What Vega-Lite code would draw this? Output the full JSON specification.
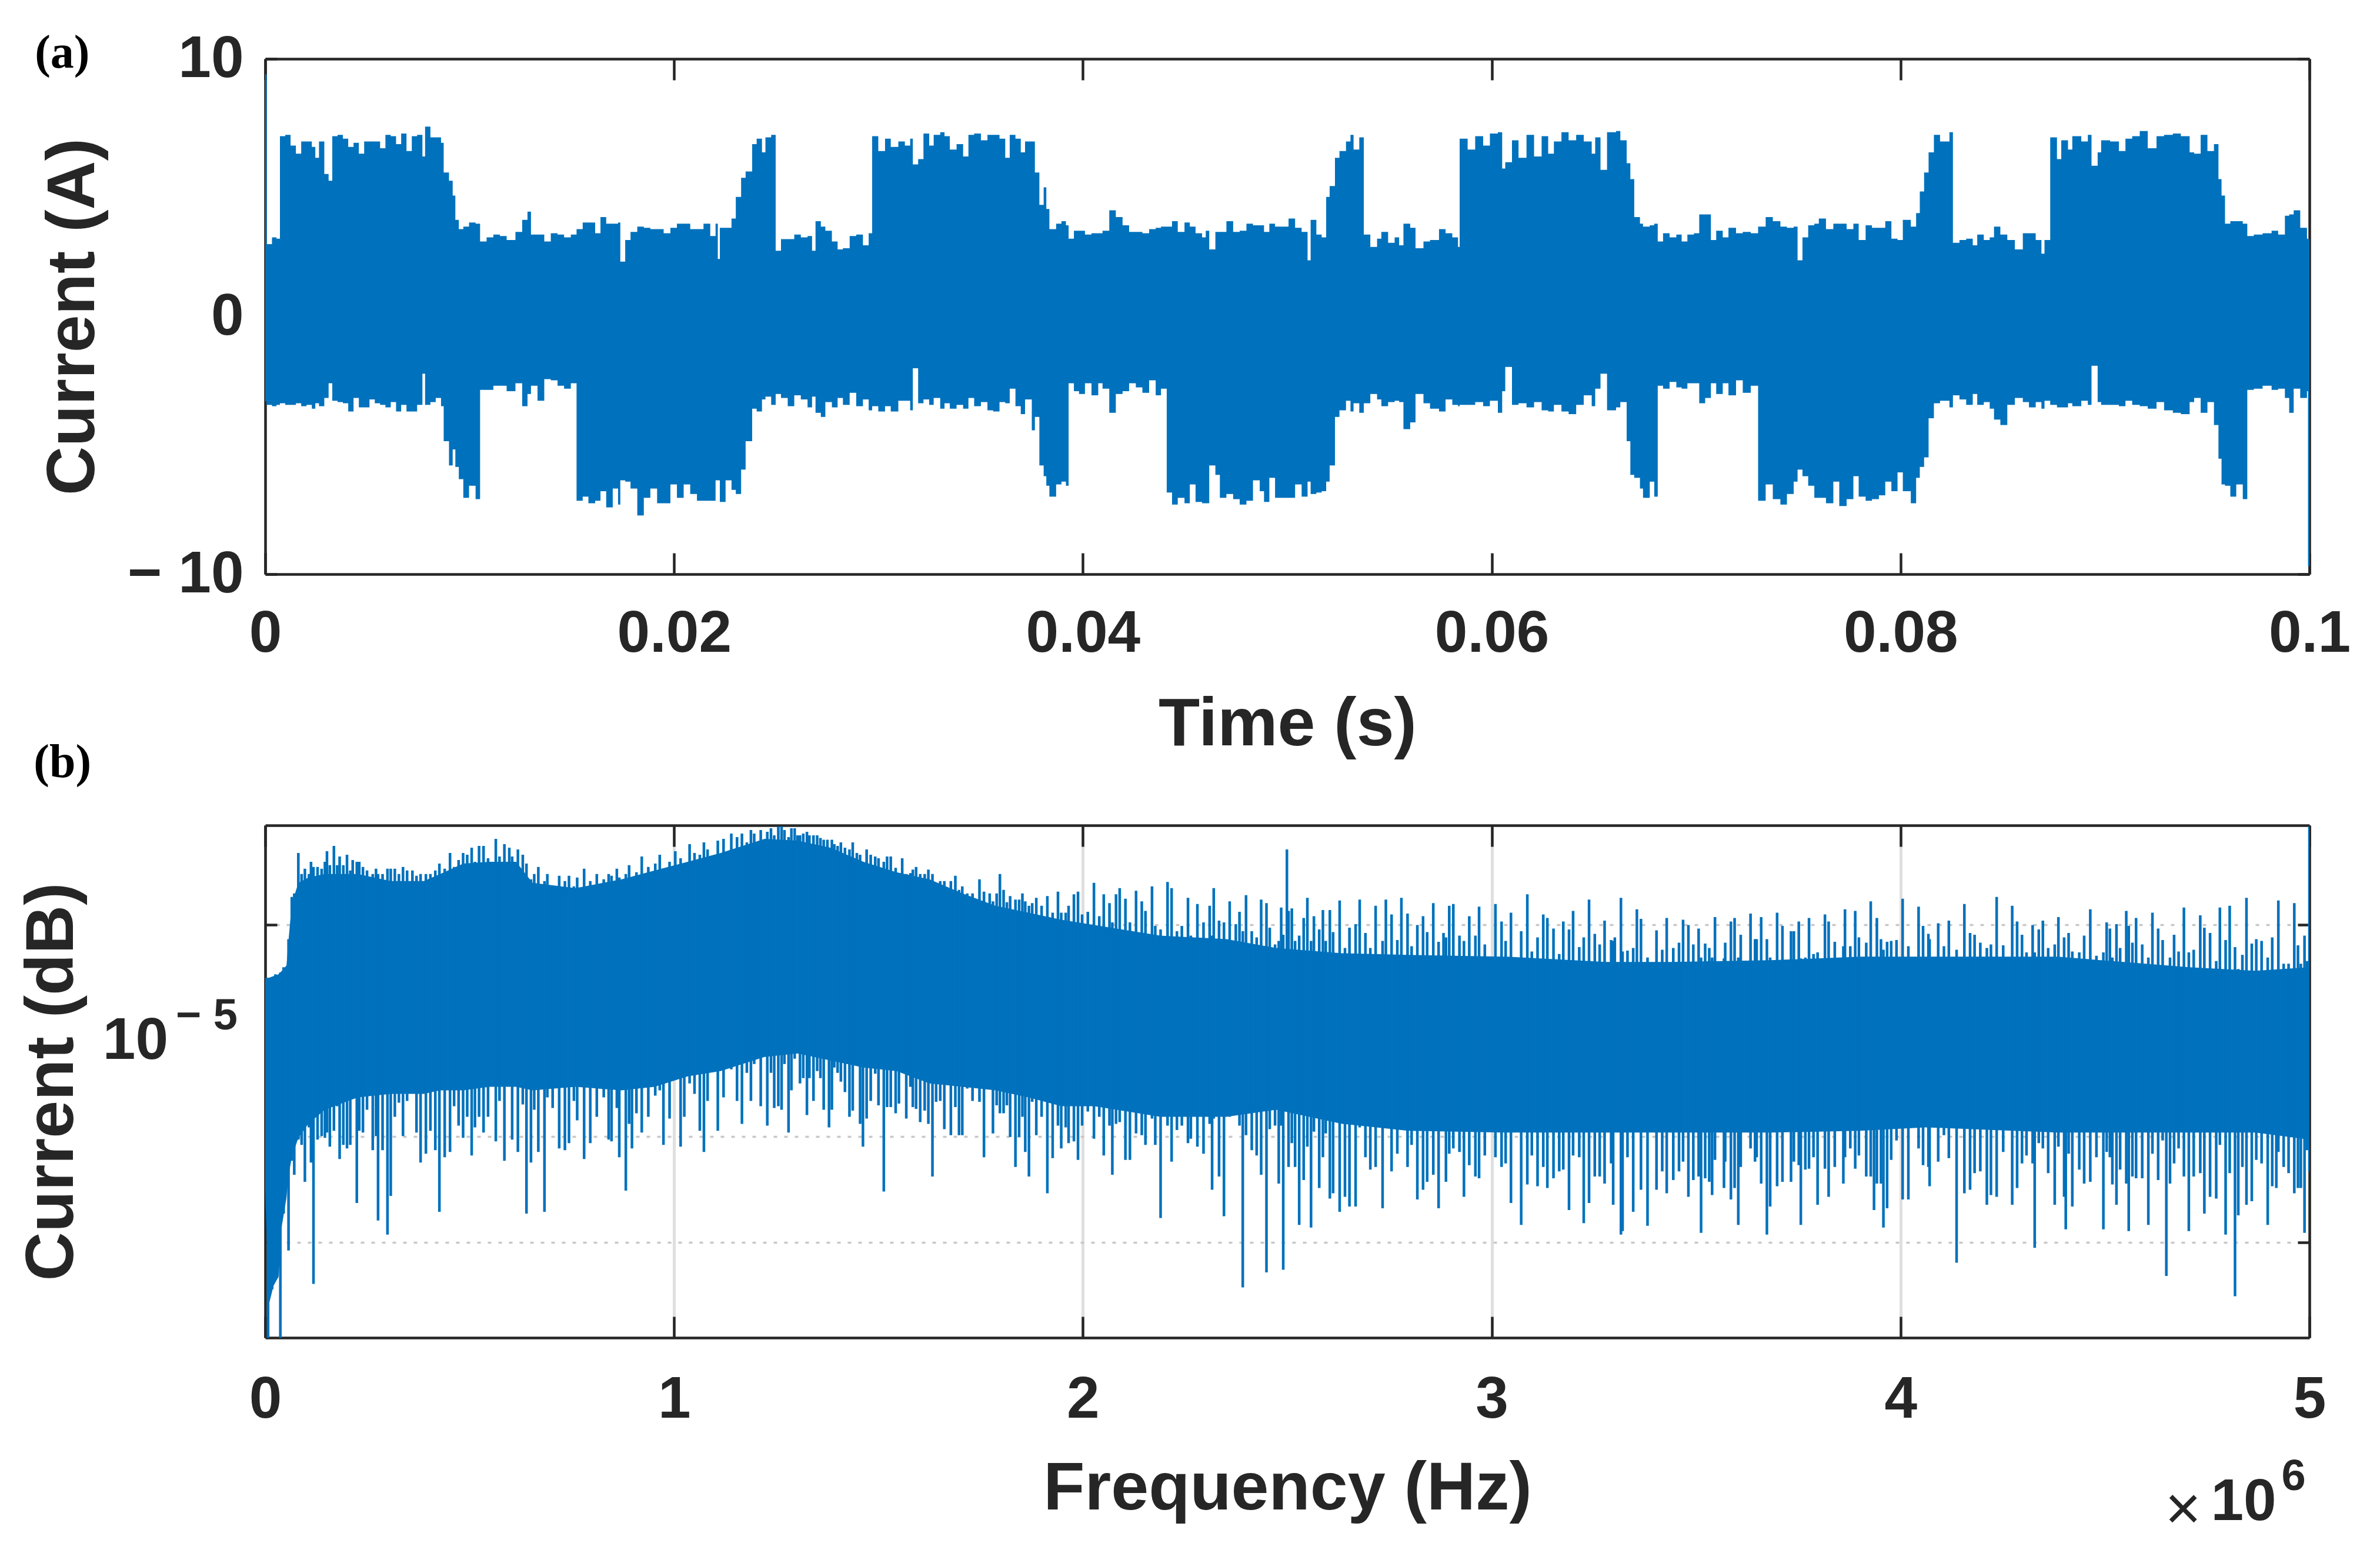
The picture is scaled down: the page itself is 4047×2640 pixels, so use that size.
{"$schema":"https://vega.github.io/schema/vega-lite/v6.json","padding":{"left":31,"top":50,"right":60,"bottom":30},"background":"white","bounds":"flush","spacing":427,
"config":{"view":{"stroke":null},"font":"Liberation Sans","axis":{"domainColor":"#262626","domainWidth":4.5,"tickColor":"#262626","tickWidth":4.5,"labelColor":"#262626","labelFont":"Liberation Sans","labelFontWeight":"bold","labelFontSize":100,"labelLimit":2000,"titleLimit":3000,"titleColor":"#262626","titleFont":"Liberation Sans","titleFontWeight":"bold","titleFontSize":115,"grid":false,"labelOverlap":false,"labelBound":false,"labelFlush":false}},
"datasets":{
"a":[{"t":0,"hi":9.4,"lo":-3.3},{"t":0.00007,"hi":2.81,"lo":-3.43},{"t":0.00033,"hi":3.07,"lo":-3.48},{"t":0.00055,"hi":3.02,"lo":-3.43},{"t":0.00072,"hi":7.0,"lo":-3.37},{"t":0.00098,"hi":7.05,"lo":-3.43},{"t":0.00124,"hi":6.63,"lo":-3.43},{"t":0.0015,"hi":6.32,"lo":-3.37},{"t":0.00176,"hi":6.79,"lo":-3.48},{"t":0.00202,"hi":6.79,"lo":-3.43},{"t":0.00228,"hi":6.58,"lo":-3.58},{"t":0.00245,"hi":6.16,"lo":-3.37},{"t":0.00263,"hi":6.79,"lo":-3.48},{"t":0.00289,"hi":5.53,"lo":-3.16},{"t":0.0031,"hi":5.27,"lo":-2.59},{"t":0.00328,"hi":7.0,"lo":-3.27},{"t":0.00354,"hi":7.05,"lo":-3.32},{"t":0.0038,"hi":6.9,"lo":-3.37},{"t":0.00406,"hi":6.58,"lo":-3.69},{"t":0.00432,"hi":6.74,"lo":-3.16},{"t":0.00458,"hi":6.32,"lo":-3.53},{"t":0.00484,"hi":6.79,"lo":-3.53},{"t":0.0051,"hi":6.79,"lo":-3.22},{"t":0.00536,"hi":6.79,"lo":-3.37},{"t":0.00562,"hi":6.53,"lo":-3.43},{"t":0.00588,"hi":7.05,"lo":-3.53},{"t":0.00614,"hi":7.0,"lo":-3.32},{"t":0.0064,"hi":6.69,"lo":-3.69},{"t":0.00665,"hi":7.1,"lo":-3.43},{"t":0.00691,"hi":6.42,"lo":-3.69},{"t":0.00717,"hi":7.0,"lo":-3.69},{"t":0.00743,"hi":7.05,"lo":-3.43},{"t":0.00769,"hi":6.21,"lo":-2.22},{"t":0.00782,"hi":7.37,"lo":-3.43},{"t":0.00808,"hi":6.95,"lo":-3.32},{"t":0.00834,"hi":6.95,"lo":-3.16},{"t":0.0086,"hi":6.74,"lo":-3.48},{"t":0.00873,"hi":5.59,"lo":-4.84},{"t":0.00899,"hi":5.27,"lo":-5.78},{"t":0.00917,"hi":4.69,"lo":-5.16},{"t":0.0093,"hi":3.75,"lo":-5.84},{"t":0.00947,"hi":3.39,"lo":-6.31},{"t":0.00969,"hi":3.49,"lo":-7.04},{"t":0.00997,"hi":3.65,"lo":-6.57},{"t":0.01029,"hi":3.6,"lo":-7.09},{"t":0.01051,"hi":2.91,"lo":-2.85},{"t":0.01083,"hi":3.07,"lo":-2.85},{"t":0.01116,"hi":3.18,"lo":-2.69},{"t":0.01148,"hi":3.12,"lo":-2.69},{"t":0.01181,"hi":2.97,"lo":-2.9},{"t":0.01224,"hi":3.28,"lo":-2.59},{"t":0.01257,"hi":3.75,"lo":-3.48},{"t":0.01283,"hi":4.07,"lo":-3.01},{"t":0.013,"hi":3.18,"lo":-2.69},{"t":0.01332,"hi":3.18,"lo":-3.27},{"t":0.01365,"hi":2.91,"lo":-2.43},{"t":0.01397,"hi":3.23,"lo":-2.48},{"t":0.0143,"hi":3.18,"lo":-2.69},{"t":0.01462,"hi":3.07,"lo":-2.8},{"t":0.01495,"hi":3.18,"lo":-2.59},{"t":0.01523,"hi":3.39,"lo":-7.15},{"t":0.01553,"hi":3.65,"lo":-6.99},{"t":0.01581,"hi":3.65,"lo":-7.25},{"t":0.01614,"hi":3.23,"lo":-7.15},{"t":0.0164,"hi":3.86,"lo":-6.78},{"t":0.01668,"hi":3.6,"lo":-7.41},{"t":0.017,"hi":3.6,"lo":-6.68},{"t":0.01726,"hi":3.65,"lo":-7.3},{"t":0.01737,"hi":2.13,"lo":-6.36},{"t":0.01761,"hi":2.97,"lo":-6.41},{"t":0.01787,"hi":3.28,"lo":-6.68},{"t":0.0182,"hi":3.49,"lo":-7.72},{"t":0.01852,"hi":3.44,"lo":-7.04},{"t":0.01884,"hi":3.39,"lo":-6.68},{"t":0.01917,"hi":3.39,"lo":-7.25},{"t":0.01949,"hi":3.23,"lo":-7.25},{"t":0.01982,"hi":3.44,"lo":-6.52},{"t":0.02014,"hi":3.6,"lo":-7.04},{"t":0.02047,"hi":3.6,"lo":-6.52},{"t":0.02079,"hi":3.39,"lo":-6.89},{"t":0.02112,"hi":3.39,"lo":-7.15},{"t":0.02144,"hi":3.6,"lo":-7.15},{"t":0.02177,"hi":3.12,"lo":-7.15},{"t":0.02203,"hi":3.6,"lo":-6.36},{"t":0.02214,"hi":2.23,"lo":-6.36},{"t":0.02224,"hi":3.44,"lo":-7.2},{"t":0.02252,"hi":3.44,"lo":-6.36},{"t":0.02281,"hi":3.8,"lo":-6.73},{"t":0.02302,"hi":4.64,"lo":-6.89},{"t":0.02328,"hi":5.38,"lo":-5.94},{"t":0.0235,"hi":5.63,"lo":-4.84},{"t":0.02382,"hi":6.69,"lo":-3.58},{"t":0.02404,"hi":6.9,"lo":-3.69},{"t":0.0243,"hi":6.37,"lo":-3.22},{"t":0.02447,"hi":6.95,"lo":-3.11},{"t":0.02475,"hi":7.05,"lo":-3.43},{"t":0.02497,"hi":2.55,"lo":-3.01},{"t":0.02523,"hi":3.0,"lo":-3.16},{"t":0.02556,"hi":3.0,"lo":-3.48},{"t":0.02588,"hi":3.18,"lo":-3.06},{"t":0.0262,"hi":3.07,"lo":-3.22},{"t":0.02653,"hi":3.12,"lo":-3.53},{"t":0.02675,"hi":2.55,"lo":-3.11},{"t":0.02692,"hi":3.7,"lo":-3.74},{"t":0.02718,"hi":3.49,"lo":-3.9},{"t":0.0274,"hi":3.33,"lo":-3.32},{"t":0.02772,"hi":2.91,"lo":-3.53},{"t":0.028,"hi":2.6,"lo":-3.16},{"t":0.02826,"hi":2.65,"lo":-3.43},{"t":0.02859,"hi":3.12,"lo":-2.96},{"t":0.02891,"hi":3.18,"lo":-3.48},{"t":0.02924,"hi":2.76,"lo":-3.22},{"t":0.02952,"hi":3.23,"lo":-3.64},{"t":0.02969,"hi":7.0,"lo":-3.48},{"t":0.02999,"hi":6.42,"lo":-3.69},{"t":0.03032,"hi":6.9,"lo":-3.48},{"t":0.0306,"hi":6.58,"lo":-3.69},{"t":0.03097,"hi":6.79,"lo":-3.27},{"t":0.03129,"hi":6.63,"lo":-3.27},{"t":0.03155,"hi":6.9,"lo":-3.64},{"t":0.03168,"hi":5.9,"lo":-2.01},{"t":0.03194,"hi":6.11,"lo":-3.37},{"t":0.0322,"hi":7.1,"lo":-3.22},{"t":0.03248,"hi":6.63,"lo":-3.43},{"t":0.0327,"hi":7.05,"lo":-3.16},{"t":0.03302,"hi":7.15,"lo":-3.58},{"t":0.03323,"hi":7.0,"lo":-3.37},{"t":0.03349,"hi":6.48,"lo":-3.58},{"t":0.03382,"hi":6.69,"lo":-3.43},{"t":0.03414,"hi":6.21,"lo":-3.58},{"t":0.0344,"hi":7.05,"lo":-3.16},{"t":0.03468,"hi":7.1,"lo":-3.48},{"t":0.03501,"hi":6.84,"lo":-3.32},{"t":0.03533,"hi":7.05,"lo":-3.64},{"t":0.03561,"hi":7.05,"lo":-3.69},{"t":0.03592,"hi":6.9,"lo":-3.32},{"t":0.0362,"hi":6.16,"lo":-3.37},{"t":0.03642,"hi":7.05,"lo":-2.8},{"t":0.0367,"hi":6.9,"lo":-3.48},{"t":0.03696,"hi":6.37,"lo":-3.79},{"t":0.03717,"hi":6.79,"lo":-3.22},{"t":0.0375,"hi":6.79,"lo":-4.42},{"t":0.03765,"hi":5.59,"lo":-3.9},{"t":0.03787,"hi":4.33,"lo":-5.78},{"t":0.03808,"hi":5.01,"lo":-6.2},{"t":0.03821,"hi":4.17,"lo":-6.57},{"t":0.03836,"hi":3.39,"lo":-6.99},{"t":0.03869,"hi":3.6,"lo":-6.52},{"t":0.03895,"hi":3.7,"lo":-6.41},{"t":0.03917,"hi":3.54,"lo":-6.57},{"t":0.0393,"hi":3.02,"lo":-2.59},{"t":0.03956,"hi":3.33,"lo":-2.9},{"t":0.03981,"hi":3.33,"lo":-3.01},{"t":0.0401,"hi":3.18,"lo":-2.59},{"t":0.04042,"hi":3.23,"lo":-3.06},{"t":0.04075,"hi":3.23,"lo":-2.59},{"t":0.04096,"hi":3.33,"lo":-2.8},{"t":0.04129,"hi":4.12,"lo":-3.74},{"t":0.04161,"hi":3.86,"lo":-3.01},{"t":0.04194,"hi":3.54,"lo":-2.9},{"t":0.04226,"hi":3.28,"lo":-2.59},{"t":0.04259,"hi":3.28,"lo":-2.75},{"t":0.04291,"hi":3.23,"lo":-2.96},{"t":0.04324,"hi":3.39,"lo":-2.48},{"t":0.04356,"hi":3.44,"lo":-3.06},{"t":0.04382,"hi":3.49,"lo":-2.8},{"t":0.0441,"hi":3.49,"lo":-6.83},{"t":0.04436,"hi":3.7,"lo":-7.3},{"t":0.04464,"hi":3.28,"lo":-7.04},{"t":0.04497,"hi":3.65,"lo":-7.25},{"t":0.04523,"hi":3.49,"lo":-6.52},{"t":0.04551,"hi":3.23,"lo":-7.2},{"t":0.04583,"hi":3.07,"lo":-7.25},{"t":0.04601,"hi":3.33,"lo":-7.25},{"t":0.04618,"hi":2.6,"lo":-5.78},{"t":0.04648,"hi":3.28,"lo":-6.15},{"t":0.0467,"hi":3.28,"lo":-7.04},{"t":0.04702,"hi":3.7,"lo":-6.89},{"t":0.04735,"hi":3.28,"lo":-7.09},{"t":0.04767,"hi":3.33,"lo":-7.3},{"t":0.048,"hi":3.6,"lo":-7.15},{"t":0.04832,"hi":3.54,"lo":-6.36},{"t":0.04865,"hi":3.54,"lo":-6.78},{"t":0.04886,"hi":3.28,"lo":-7.2},{"t":0.04912,"hi":3.6,"lo":-6.26},{"t":0.0494,"hi":3.49,"lo":-7.04},{"t":0.04973,"hi":3.49,"lo":-7.04},{"t":0.05006,"hi":3.8,"lo":-7.04},{"t":0.05038,"hi":3.44,"lo":-6.52},{"t":0.0507,"hi":3.28,"lo":-6.99},{"t":0.05099,"hi":2.18,"lo":-6.41},{"t":0.05114,"hi":3.75,"lo":-6.89},{"t":0.05142,"hi":3.18,"lo":-6.83},{"t":0.05168,"hi":3.07,"lo":-6.78},{"t":0.0519,"hi":4.64,"lo":-6.41},{"t":0.05207,"hi":5.06,"lo":-5.78},{"t":0.05233,"hi":6.16,"lo":-3.9},{"t":0.05255,"hi":6.42,"lo":-3.64},{"t":0.05287,"hi":6.79,"lo":-3.27},{"t":0.05309,"hi":7.05,"lo":-3.69},{"t":0.05324,"hi":6.48,"lo":-3.37},{"t":0.05352,"hi":6.95,"lo":-3.74},{"t":0.05374,"hi":3.18,"lo":-3.37},{"t":0.05406,"hi":2.7,"lo":-3.01},{"t":0.05439,"hi":3.02,"lo":-3.22},{"t":0.0546,"hi":3.28,"lo":-3.48},{"t":0.05493,"hi":2.86,"lo":-3.32},{"t":0.05525,"hi":3.07,"lo":-3.27},{"t":0.05547,"hi":2.76,"lo":-3.32},{"t":0.05568,"hi":3.6,"lo":-4.37},{"t":0.05601,"hi":3.44,"lo":-4.11},{"t":0.05627,"hi":2.65,"lo":-3.01},{"t":0.05666,"hi":2.91,"lo":-3.37},{"t":0.05698,"hi":2.97,"lo":-3.58},{"t":0.05742,"hi":3.39,"lo":-3.69},{"t":0.05774,"hi":3.23,"lo":-3.22},{"t":0.05807,"hi":3.07,"lo":-3.43},{"t":0.05835,"hi":2.7,"lo":-3.48},{"t":0.05843,"hi":6.9,"lo":-3.43},{"t":0.05882,"hi":6.48,"lo":-3.43},{"t":0.05919,"hi":7.0,"lo":-3.32},{"t":0.05958,"hi":6.63,"lo":-3.48},{"t":0.05991,"hi":7.1,"lo":-3.27},{"t":0.0603,"hi":7.15,"lo":-3.74},{"t":0.06051,"hi":5.74,"lo":-2.9},{"t":0.06066,"hi":5.99,"lo":-1.96},{"t":0.06099,"hi":6.84,"lo":-3.43},{"t":0.06131,"hi":6.16,"lo":-3.37},{"t":0.0617,"hi":7.05,"lo":-3.53},{"t":0.06207,"hi":6.21,"lo":-3.32},{"t":0.06244,"hi":7.0,"lo":-3.64},{"t":0.06276,"hi":6.32,"lo":-3.69},{"t":0.06304,"hi":6.79,"lo":-3.43},{"t":0.06341,"hi":7.15,"lo":-3.69},{"t":0.06376,"hi":6.84,"lo":-3.79},{"t":0.06413,"hi":7.05,"lo":-3.43},{"t":0.0645,"hi":6.79,"lo":-3.06},{"t":0.06489,"hi":6.32,"lo":-3.48},{"t":0.06506,"hi":6.95,"lo":-2.8},{"t":0.06532,"hi":5.69,"lo":-2.22},{"t":0.06564,"hi":7.15,"lo":-3.64},{"t":0.06608,"hi":7.2,"lo":-3.53},{"t":0.06629,"hi":6.84,"lo":-3.32},{"t":0.0666,"hi":5.95,"lo":-4.84},{"t":0.06678,"hi":5.33,"lo":-6.15},{"t":0.06697,"hi":3.86,"lo":-6.26},{"t":0.06725,"hi":3.6,"lo":-6.68},{"t":0.0674,"hi":3.49,"lo":-7.04},{"t":0.06773,"hi":3.54,"lo":-6.41},{"t":0.06795,"hi":3.6,"lo":-6.99},{"t":0.06812,"hi":2.91,"lo":-2.69},{"t":0.06838,"hi":3.23,"lo":-2.8},{"t":0.0687,"hi":3.07,"lo":-2.54},{"t":0.06903,"hi":3.18,"lo":-2.75},{"t":0.06929,"hi":2.91,"lo":-2.8},{"t":0.06957,"hi":3.18,"lo":-2.59},{"t":0.06989,"hi":3.23,"lo":-2.59},{"t":0.07015,"hi":3.96,"lo":-3.37},{"t":0.07044,"hi":3.96,"lo":-3.16},{"t":0.07072,"hi":2.97,"lo":-2.59},{"t":0.07098,"hi":3.33,"lo":-3.01},{"t":0.0713,"hi":3.07,"lo":-2.59},{"t":0.07158,"hi":3.44,"lo":-3.06},{"t":0.07195,"hi":3.23,"lo":-2.48},{"t":0.07228,"hi":3.28,"lo":-2.96},{"t":0.07267,"hi":3.23,"lo":-2.69},{"t":0.07303,"hi":3.49,"lo":-7.15},{"t":0.0734,"hi":3.86,"lo":-6.52},{"t":0.07375,"hi":3.7,"lo":-7.09},{"t":0.07412,"hi":3.49,"lo":-7.3},{"t":0.07444,"hi":3.44,"lo":-6.89},{"t":0.07477,"hi":3.49,"lo":-6.41},{"t":0.07496,"hi":2.18,"lo":-5.94},{"t":0.0752,"hi":3.07,"lo":-6.2},{"t":0.07548,"hi":3.54,"lo":-6.57},{"t":0.07578,"hi":3.6,"lo":-7.04},{"t":0.076,"hi":3.8,"lo":-7.04},{"t":0.07635,"hi":3.39,"lo":-7.25},{"t":0.07671,"hi":3.6,"lo":-6.41},{"t":0.077,"hi":3.6,"lo":-7.36},{"t":0.07736,"hi":3.39,"lo":-7.09},{"t":0.07769,"hi":3.6,"lo":-6.2},{"t":0.07795,"hi":2.97,"lo":-6.99},{"t":0.07829,"hi":3.54,"lo":-7.15},{"t":0.0786,"hi":3.44,"lo":-7.09},{"t":0.07894,"hi":3.44,"lo":-6.94},{"t":0.07925,"hi":3.7,"lo":-6.41},{"t":0.07955,"hi":3.02,"lo":-6.78},{"t":0.07985,"hi":2.97,"lo":-6.05},{"t":0.08011,"hi":3.75,"lo":-6.78},{"t":0.0805,"hi":3.49,"lo":-7.25},{"t":0.08076,"hi":4.01,"lo":-6.26},{"t":0.08094,"hi":4.85,"lo":-5.84},{"t":0.08115,"hi":5.59,"lo":-5.47},{"t":0.08137,"hi":6.37,"lo":-3.95},{"t":0.08163,"hi":7.05,"lo":-3.37},{"t":0.08193,"hi":6.79,"lo":-3.27},{"t":0.08239,"hi":7.15,"lo":-3.53},{"t":0.08256,"hi":2.86,"lo":-3.06},{"t":0.08288,"hi":2.97,"lo":-3.22},{"t":0.08321,"hi":3.02,"lo":-3.43},{"t":0.08353,"hi":2.76,"lo":-3.01},{"t":0.08375,"hi":3.18,"lo":-3.43},{"t":0.08407,"hi":2.97,"lo":-3.32},{"t":0.08436,"hi":3.07,"lo":-3.58},{"t":0.08457,"hi":3.49,"lo":-4.0},{"t":0.08488,"hi":3.18,"lo":-4.21},{"t":0.08522,"hi":2.97,"lo":-3.43},{"t":0.08559,"hi":2.6,"lo":-3.16},{"t":0.08598,"hi":3.23,"lo":-3.32},{"t":0.08628,"hi":3.23,"lo":-3.53},{"t":0.08661,"hi":2.97,"lo":-3.32},{"t":0.08689,"hi":2.44,"lo":-3.58},{"t":0.08704,"hi":2.97,"lo":-3.27},{"t":0.08732,"hi":6.95,"lo":-3.43},{"t":0.08765,"hi":6.11,"lo":-3.53},{"t":0.08786,"hi":6.84,"lo":-3.53},{"t":0.08819,"hi":6.48,"lo":-3.37},{"t":0.0884,"hi":7.0,"lo":-3.48},{"t":0.08884,"hi":6.79,"lo":-3.27},{"t":0.08916,"hi":7.05,"lo":-3.43},{"t":0.08934,"hi":5.85,"lo":-1.91},{"t":0.08964,"hi":6.37,"lo":-3.32},{"t":0.08981,"hi":6.84,"lo":-3.43},{"t":0.09025,"hi":6.79,"lo":-3.43},{"t":0.09068,"hi":6.42,"lo":-3.48},{"t":0.091,"hi":6.9,"lo":-3.27},{"t":0.09133,"hi":7.0,"lo":-3.43},{"t":0.0917,"hi":7.2,"lo":-3.48},{"t":0.09209,"hi":6.53,"lo":-3.58},{"t":0.09252,"hi":7.0,"lo":-3.32},{"t":0.09289,"hi":7.05,"lo":-3.64},{"t":0.09332,"hi":7.1,"lo":-3.74},{"t":0.09371,"hi":7.0,"lo":-3.79},{"t":0.09414,"hi":6.37,"lo":-3.32},{"t":0.09436,"hi":6.32,"lo":-3.16},{"t":0.09468,"hi":7.05,"lo":-3.74},{"t":0.09501,"hi":6.42,"lo":-3.32},{"t":0.09533,"hi":6.69,"lo":-4.21},{"t":0.09555,"hi":5.33,"lo":-5.52},{"t":0.0957,"hi":4.69,"lo":-6.52},{"t":0.09587,"hi":3.6,"lo":-6.57},{"t":0.09613,"hi":3.7,"lo":-6.99},{"t":0.09642,"hi":3.7,"lo":-6.52},{"t":0.09674,"hi":3.6,"lo":-7.09},{"t":0.09696,"hi":3.12,"lo":-2.85},{"t":0.09728,"hi":3.18,"lo":-2.8},{"t":0.09771,"hi":3.23,"lo":-2.69},{"t":0.09815,"hi":3.33,"lo":-2.85},{"t":0.09847,"hi":3.18,"lo":-2.8},{"t":0.0988,"hi":3.91,"lo":-3.16},{"t":0.09901,"hi":3.96,"lo":-3.74},{"t":0.09923,"hi":4.12,"lo":-2.8},{"t":0.09955,"hi":3.44,"lo":-3.16},{"t":0.09988,"hi":3.02,"lo":-2.9},{"t":0.09993,"hi":3.0,"lo":-9.7},{"t":0.1,"hi":3.0,"lo":-9.7}],
"body":[{"f":0.0,"hi":-97.0,"lo":-109.1},{"f":0.0085,"hi":-97.0,"lo":-115.6},{"f":0.0205,"hi":-96.9,"lo":-114.5},{"f":0.0326,"hi":-96.8,"lo":-114.0},{"f":0.0407,"hi":-96.6,"lo":-111.1},{"f":0.052,"hi":-96.3,"lo":-109.5},{"f":0.0568,"hi":-94.9,"lo":-108.3},{"f":0.0649,"hi":-92.8,"lo":-107.2},{"f":0.081,"hi":-91.6,"lo":-106.1},{"f":0.1053,"hi":-91.3,"lo":-105.3},{"f":0.1456,"hi":-91.1,"lo":-104.5},{"f":0.2263,"hi":-91.1,"lo":-103.8},{"f":0.307,"hi":-91.5,"lo":-103.6},{"f":0.3877,"hi":-91.5,"lo":-103.6},{"f":0.428,"hi":-91.1,"lo":-103.4},{"f":0.4845,"hi":-90.5,"lo":-103.4},{"f":0.5491,"hi":-90.4,"lo":-103.2},{"f":0.6137,"hi":-90.4,"lo":-103.2},{"f":0.654,"hi":-91.6,"lo":-103.4},{"f":0.7589,"hi":-91.9,"lo":-103.2},{"f":0.8719,"hi":-91.4,"lo":-103.4},{"f":0.9526,"hi":-90.9,"lo":-103.2},{"f":1.0333,"hi":-90.4,"lo":-102.6},{"f":1.114,"hi":-89.9,"lo":-102.3},{"f":1.2212,"hi":-89.1,"lo":-101.5},{"f":1.3019,"hi":-89.2,"lo":-101.3},{"f":1.3826,"hi":-89.6,"lo":-101.7},{"f":1.4633,"hi":-90.4,"lo":-102.1},{"f":1.544,"hi":-91.0,"lo":-102.3},{"f":1.6247,"hi":-91.4,"lo":-103.0},{"f":1.7054,"hi":-92.2,"lo":-103.2},{"f":1.7861,"hi":-92.9,"lo":-103.4},{"f":1.8668,"hi":-93.3,"lo":-103.8},{"f":1.9475,"hi":-93.7,"lo":-104.3},{"f":2.0282,"hi":-94.0,"lo":-104.3},{"f":2.1896,"hi":-94.6,"lo":-104.9},{"f":2.351,"hi":-94.8,"lo":-104.9},{"f":2.4727,"hi":-95.3,"lo":-104.5},{"f":2.6341,"hi":-95.6,"lo":-105.3},{"f":2.7955,"hi":-95.7,"lo":-105.7},{"f":3.0376,"hi":-95.8,"lo":-105.8},{"f":3.2797,"hi":-96.1,"lo":-105.8},{"f":3.4411,"hi":-96.1,"lo":-105.8},{"f":3.6832,"hi":-96.0,"lo":-105.8},{"f":3.8999,"hi":-95.8,"lo":-105.7},{"f":4.0613,"hi":-95.8,"lo":-105.5},{"f":4.3841,"hi":-95.8,"lo":-105.8},{"f":4.5455,"hi":-96.1,"lo":-105.8},{"f":4.7069,"hi":-96.4,"lo":-105.8},{"f":4.8683,"hi":-96.6,"lo":-105.8},{"f":5.0,"hi":-96.4,"lo":-106.2}],
"spk":[{"f":0.0,"hi":-97.0,"lo":-109.1},{"f":0.007,"hi":-97.0,"lo":-117.5},{"f":0.017,"hi":-97.0,"lo":-114.7},{"f":0.025,"hi":-96.8,"lo":-114.0},{"f":0.037,"hi":-96.7,"lo":-117.5},{"f":0.045,"hi":-96.4,"lo":-110.4},{"f":0.057,"hi":-94.8,"lo":-112.5},{"f":0.065,"hi":-92.4,"lo":-107.4},{"f":0.071,"hi":-92.2,"lo":-108.2},{"f":0.081,"hi":-89.9,"lo":-106.2},{"f":0.089,"hi":-91.1,"lo":-106.5},{"f":0.097,"hi":-90.8,"lo":-108.6},{"f":0.107,"hi":-91.1,"lo":-105.5},{"f":0.112,"hi":-90.4,"lo":-107.5},{"f":0.118,"hi":-90.7,"lo":-114.4},{"f":0.128,"hi":-90.7,"lo":-106.2},{"f":0.138,"hi":-90.8,"lo":-106.0},{"f":0.146,"hi":-90.4,"lo":-106.1},{"f":0.151,"hi":-89.8,"lo":-105.8},{"f":0.158,"hi":-90.6,"lo":-106.6},{"f":0.168,"hi":-89.5,"lo":-105.7},{"f":0.176,"hi":-90.6,"lo":-104.3},{"f":0.182,"hi":-90.1,"lo":-107.3},{"f":0.191,"hi":-90.6,"lo":-106.5},{"f":0.2,"hi":-90.0,"lo":-106.7},{"f":0.208,"hi":-90.9,"lo":-106.5},{"f":0.214,"hi":-90.3,"lo":-103.6},{"f":0.224,"hi":-90.4,"lo":-109.8},{"f":0.23,"hi":-90.4,"lo":-105.7},{"f":0.239,"hi":-90.7,"lo":-105.8},{"f":0.249,"hi":-90.9,"lo":-104.5},{"f":0.263,"hi":-91.1,"lo":-106.8},{"f":0.271,"hi":-90.8,"lo":-106.0},{"f":0.276,"hi":-91.1,"lo":-110.8},{"f":0.287,"hi":-91.1,"lo":-106.8},{"f":0.299,"hi":-90.8,"lo":-111.6},{"f":0.307,"hi":-90.8,"lo":-109.4},{"f":0.317,"hi":-90.8,"lo":-104.9},{"f":0.327,"hi":-91.1,"lo":-104.1},{"f":0.337,"hi":-90.7,"lo":-106.0},{"f":0.347,"hi":-90.9,"lo":-104.0},{"f":0.36,"hi":-90.9,"lo":-103.1},{"f":0.37,"hi":-91.2,"lo":-105.8},{"f":0.38,"hi":-91.1,"lo":-107.5},{"f":0.393,"hi":-91.1,"lo":-107.0},{"f":0.404,"hi":-91.1,"lo":-105.7},{"f":0.416,"hi":-90.9,"lo":-106.8},{"f":0.426,"hi":-90.5,"lo":-110.3},{"f":0.439,"hi":-90.8,"lo":-107.2},{"f":0.452,"hi":-89.9,"lo":-106.9},{"f":0.462,"hi":-90.7,"lo":-104.3},{"f":0.473,"hi":-90.3,"lo":-105.4},{"f":0.484,"hi":-89.9,"lo":-106.1},{"f":0.494,"hi":-90.0,"lo":-104.9},{"f":0.505,"hi":-89.6,"lo":-107.1},{"f":0.513,"hi":-90.4,"lo":-105.5},{"f":0.523,"hi":-89.5,"lo":-104.9},{"f":0.534,"hi":-89.5,"lo":-105.8},{"f":0.545,"hi":-90.2,"lo":-104.9},{"f":0.564,"hi":-89.1,"lo":-106.3},{"f":0.573,"hi":-90.1,"lo":-104.0},{"f":0.585,"hi":-89.4,"lo":-107.4},{"f":0.597,"hi":-89.6,"lo":-103.0},{"f":0.604,"hi":-90.1,"lo":-106.2},{"f":0.618,"hi":-89.7,"lo":-106.9},{"f":0.63,"hi":-90.0,"lo":-104.2},{"f":0.639,"hi":-90.5,"lo":-110.4},{"f":0.65,"hi":-91.4,"lo":-107.5},{"f":0.658,"hi":-91.1,"lo":-104.5},{"f":0.668,"hi":-90.7,"lo":-106.9},{"f":0.683,"hi":-91.5,"lo":-110.3},{"f":0.69,"hi":-91.1,"lo":-103.8},{"f":0.703,"hi":-91.8,"lo":-104.4},{"f":0.719,"hi":-91.2,"lo":-106.7},{"f":0.733,"hi":-91.5,"lo":-106.8},{"f":0.743,"hi":-91.2,"lo":-106.4},{"f":0.755,"hi":-91.8,"lo":-104.0},{"f":0.763,"hi":-91.3,"lo":-105.1},{"f":0.78,"hi":-90.8,"lo":-107.3},{"f":0.795,"hi":-91.5,"lo":-106.4},{"f":0.811,"hi":-91.1,"lo":-104.9},{"f":0.828,"hi":-91.4,"lo":-103.8},{"f":0.84,"hi":-91.1,"lo":-106.2},{"f":0.847,"hi":-91.2,"lo":-106.3},{"f":0.86,"hi":-90.8,"lo":-104.4},{"f":0.866,"hi":-91.3,"lo":-107.2},{"f":0.882,"hi":-91.1,"lo":-109.1},{"f":0.89,"hi":-90.6,"lo":-105.3},{"f":0.897,"hi":-91.6,"lo":-106.7},{"f":0.908,"hi":-91.0,"lo":-104.7},{"f":0.921,"hi":-90.1,"lo":-105.8},{"f":0.937,"hi":-90.7,"lo":-104.9},{"f":0.954,"hi":-90.5,"lo":-103.7},{"f":0.965,"hi":-90.0,"lo":-103.4},{"f":0.974,"hi":-90.8,"lo":-106.5},{"f":0.989,"hi":-90.4,"lo":-105.0},{"f":1.003,"hi":-89.8,"lo":-102.0},{"f":1.016,"hi":-90.2,"lo":-106.6},{"f":1.025,"hi":-90.6,"lo":-104.9},{"f":1.038,"hi":-89.4,"lo":-103.0},{"f":1.05,"hi":-89.9,"lo":-103.6},{"f":1.063,"hi":-90.0,"lo":-105.7},{"f":1.073,"hi":-89.3,"lo":-106.9},{"f":1.082,"hi":-89.7,"lo":-104.0},{"f":1.107,"hi":-89.2,"lo":-105.7},{"f":1.121,"hi":-89.1,"lo":-103.8},{"f":1.14,"hi":-88.8,"lo":-102.2},{"f":1.154,"hi":-89.0,"lo":-104.0},{"f":1.166,"hi":-88.8,"lo":-105.3},{"f":1.178,"hi":-89.3,"lo":-102.4},{"f":1.188,"hi":-88.6,"lo":-104.0},{"f":1.196,"hi":-88.8,"lo":-101.9},{"f":1.212,"hi":-88.6,"lo":-104.3},{"f":1.228,"hi":-88.7,"lo":-105.4},{"f":1.237,"hi":-88.5,"lo":-102.4},{"f":1.245,"hi":-88.9,"lo":-104.4},{"f":1.255,"hi":-88.4,"lo":-104.3},{"f":1.263,"hi":-88.4,"lo":-104.5},{"f":1.27,"hi":-88.6,"lo":-101.9},{"f":1.28,"hi":-89.0,"lo":-105.8},{"f":1.287,"hi":-88.5,"lo":-103.4},{"f":1.295,"hi":-88.5,"lo":-101.6},{"f":1.302,"hi":-88.9,"lo":-101.3},{"f":1.308,"hi":-88.9,"lo":-103.0},{"f":1.316,"hi":-88.8,"lo":-102.7},{"f":1.325,"hi":-88.7,"lo":-104.8},{"f":1.331,"hi":-88.9,"lo":-102.7},{"f":1.341,"hi":-88.9,"lo":-104.0},{"f":1.35,"hi":-88.9,"lo":-102.3},{"f":1.358,"hi":-89.05,"lo":-102.7},{"f":1.366,"hi":-89.15,"lo":-104.5},{"f":1.375,"hi":-89.15,"lo":-100.4},{"f":1.379,"hi":-89.9,"lo":-105.5},{"f":1.386,"hi":-89.15,"lo":-104.5},{"f":1.392,"hi":-89.4,"lo":-102.1},{"f":1.4,"hi":-89.5,"lo":-102.4},{"f":1.408,"hi":-89.3,"lo":-102.9},{"f":1.418,"hi":-89.6,"lo":-103.5},{"f":1.429,"hi":-89.7,"lo":-104.9},{"f":1.437,"hi":-89.3,"lo":-104.55},{"f":1.447,"hi":-89.9,"lo":-101.8},{"f":1.455,"hi":-90.0,"lo":-105.3},{"f":1.462,"hi":-91.1,"lo":-106.6},{"f":1.471,"hi":-89.7,"lo":-105.0},{"f":1.481,"hi":-90.0,"lo":-104.0},{"f":1.492,"hi":-90.1,"lo":-102.45},{"f":1.5,"hi":-90.2,"lo":-104.25},{"f":1.513,"hi":-90.4,"lo":-109.15},{"f":1.521,"hi":-90.1,"lo":-104.35},{"f":1.53,"hi":-90.1,"lo":-104.35},{"f":1.542,"hi":-90.75,"lo":-104.7},{"f":1.55,"hi":-91.05,"lo":-104.15},{"f":1.558,"hi":-90.2,"lo":-101.9},{"f":1.568,"hi":-91.1,"lo":-105.0},{"f":1.578,"hi":-91.05,"lo":-103.2},{"f":1.584,"hi":-90.85,"lo":-104.35},{"f":1.592,"hi":-90.7,"lo":-104.45},{"f":1.602,"hi":-91.1,"lo":-105.2},{"f":1.613,"hi":-91.1,"lo":-104.55},{"f":1.622,"hi":-90.85,"lo":-105.3},{"f":1.632,"hi":-91.1,"lo":-108.3},{"f":1.641,"hi":-91.9,"lo":-104.05},{"f":1.651,"hi":-91.5,"lo":-104.0},{"f":1.661,"hi":-91.5,"lo":-105.6},{"f":1.677,"hi":-91.5,"lo":-105.95},{"f":1.688,"hi":-91.2,"lo":-104.35},{"f":1.697,"hi":-92.0,"lo":-105.95},{"f":1.705,"hi":-91.8,"lo":-105.95},{"f":1.717,"hi":-92.2,"lo":-103.3},{"f":1.73,"hi":-92.2,"lo":-104.0},{"f":1.747,"hi":-91.4,"lo":-104.05},{"f":1.758,"hi":-92.1,"lo":-107.2},{"f":1.772,"hi":-92.2,"lo":-103.1},{"f":1.78,"hi":-92.65,"lo":-105.85},{"f":1.789,"hi":-92.2,"lo":-104.25},{"f":1.797,"hi":-91.1,"lo":-104.7},{"f":1.806,"hi":-92.0,"lo":-104.7},{"f":1.814,"hi":-92.7,"lo":-104.25},{"f":1.822,"hi":-92.35,"lo":-106.05},{"f":1.835,"hi":-92.55,"lo":-107.75},{"f":1.844,"hi":-92.55,"lo":-106.05},{"f":1.852,"hi":-92.2,"lo":-104.9},{"f":1.859,"hi":-92.65,"lo":-106.9},{"f":1.868,"hi":-92.9,"lo":-108.3},{"f":1.876,"hi":-92.75,"lo":-104.05},{"f":1.886,"hi":-92.45,"lo":-105.95},{"f":1.899,"hi":-92.9,"lo":-104.9},{"f":1.913,"hi":-92.35,"lo":-109.25},{"f":1.926,"hi":-93.3,"lo":-107.25},{"f":1.939,"hi":-92.1,"lo":-105.4},{"f":1.947,"hi":-93.3,"lo":-106.7},{"f":1.958,"hi":-93.3,"lo":-105.5},{"f":1.965,"hi":-92.9,"lo":-106.4},{"f":1.978,"hi":-92.25,"lo":-106.3},{"f":1.988,"hi":-92.1,"lo":-107.35},{"f":1.998,"hi":-93.4,"lo":-105.4},{"f":2.012,"hi":-93.25,"lo":-104.6},{"f":2.027,"hi":-91.6,"lo":-106.15},{"f":2.04,"hi":-93.5,"lo":-104.9},{"f":2.051,"hi":-92.25,"lo":-107.1},{"f":2.065,"hi":-92.75,"lo":-105.4},{"f":2.072,"hi":-93.85,"lo":-108.2},{"f":2.081,"hi":-92.25,"lo":-105.3},{"f":2.09,"hi":-91.9,"lo":-105.2},{"f":2.104,"hi":-92.5,"lo":-107.35},{"f":2.115,"hi":-93.85,"lo":-107.35},{"f":2.13,"hi":-92.05,"lo":-105.85},{"f":2.144,"hi":-92.65,"lo":-105.95},{"f":2.153,"hi":-93.2,"lo":-106.5},{"f":2.169,"hi":-91.8,"lo":-105.0},{"f":2.177,"hi":-94.05,"lo":-106.5},{"f":2.19,"hi":-94.25,"lo":-110.65},{"f":2.207,"hi":-91.55,"lo":-105.4},{"f":2.217,"hi":-91.9,"lo":-107.45},{"f":2.23,"hi":-94.35,"lo":-105.65},{"f":2.242,"hi":-94.05,"lo":-105.4},{"f":2.257,"hi":-92.45,"lo":-106.4},{"f":2.264,"hi":-94.6,"lo":-106.15},{"f":2.28,"hi":-92.8,"lo":-106.6},{"f":2.295,"hi":-93.85,"lo":-107.0},{"f":2.31,"hi":-92.9,"lo":-105.3},{"f":2.316,"hi":-94.6,"lo":-109.05},{"f":2.32,"hi":-91.9,"lo":-105.0},{"f":2.333,"hi":-93.75,"lo":-108.3},{"f":2.345,"hi":-93.85,"lo":-110.55},{"f":2.359,"hi":-92.65,"lo":-104.9},{"f":2.374,"hi":-93.95,"lo":-104.35},{"f":2.383,"hi":-93.25,"lo":-105.4},{"f":2.391,"hi":-94.35,"lo":-114.6},{"f":2.399,"hi":-92.3,"lo":-105.95},{"f":2.413,"hi":-94.35,"lo":-106.8},{"f":2.425,"hi":-94.7,"lo":-107.1},{"f":2.436,"hi":-92.55,"lo":-108.2},{"f":2.449,"hi":-92.75,"lo":-113.75},{"f":2.457,"hi":-94.15,"lo":-105.6},{"f":2.47,"hi":-95.1,"lo":-105.4},{"f":2.479,"hi":-94.9,"lo":-108.7},{"f":2.485,"hi":-93.0,"lo":-105.4},{"f":2.49,"hi":-94.55,"lo":-113.6},{"f":2.499,"hi":-89.7,"lo":-104.45},{"f":2.503,"hi":-93.2,"lo":-107.75},{"f":2.511,"hi":-93.05,"lo":-106.4},{"f":2.519,"hi":-94.9,"lo":-107.75},{"f":2.529,"hi":-94.6,"lo":-111.05},{"f":2.54,"hi":-93.6,"lo":-108.5},{"f":2.549,"hi":-92.45,"lo":-106.6},{"f":2.558,"hi":-94.9,"lo":-111.2},{"f":2.565,"hi":-93.5,"lo":-105.75},{"f":2.578,"hi":-94.25,"lo":-108.95},{"f":2.587,"hi":-93.15,"lo":-107.2},{"f":2.594,"hi":-94.9,"lo":-105.85},{"f":2.604,"hi":-93.15,"lo":-109.55},{"f":2.612,"hi":-94.4,"lo":-109.25},{"f":2.628,"hi":-92.6,"lo":-110.3},{"f":2.641,"hi":-95.3,"lo":-109.45},{"f":2.652,"hi":-94.15,"lo":-110.0},{"f":2.667,"hi":-93.95,"lo":-110.0},{"f":2.677,"hi":-92.55,"lo":-105.5},{"f":2.691,"hi":-94.45,"lo":-107.2},{"f":2.703,"hi":-95.3,"lo":-107.9},{"f":2.716,"hi":-92.9,"lo":-107.75},{"f":2.733,"hi":-94.9,"lo":-110.1},{"f":2.741,"hi":-92.55,"lo":-105.5},{"f":2.755,"hi":-93.4,"lo":-108.0},{"f":2.769,"hi":-94.85,"lo":-107.0},{"f":2.779,"hi":-92.45,"lo":-105.4},{"f":2.794,"hi":-93.35,"lo":-107.75},{"f":2.804,"hi":-95.2,"lo":-106.5},{"f":2.818,"hi":-94.0,"lo":-109.6},{"f":2.832,"hi":-93.5,"lo":-109.05},{"f":2.842,"hi":-94.4,"lo":-108.6},{"f":2.857,"hi":-92.75,"lo":-108.2},{"f":2.87,"hi":-94.95,"lo":-110.1},{"f":2.882,"hi":-94.45,"lo":-104.7},{"f":2.888,"hi":-94.7,"lo":-108.6},{"f":2.896,"hi":-92.9,"lo":-107.0},{"f":2.906,"hi":-92.8,"lo":-106.7},{"f":2.921,"hi":-94.6,"lo":-106.9},{"f":2.932,"hi":-94.9,"lo":-109.45},{"f":2.945,"hi":-93.5,"lo":-107.65},{"f":2.96,"hi":-94.6,"lo":-108.3},{"f":2.969,"hi":-92.95,"lo":-108.4},{"f":2.983,"hi":-95.1,"lo":-107.1},{"f":3.009,"hi":-92.8,"lo":-107.2},{"f":3.024,"hi":-93.8,"lo":-107.75},{"f":3.034,"hi":-94.9,"lo":-107.55},{"f":3.047,"hi":-93.3,"lo":-109.8},{"f":3.072,"hi":-94.35,"lo":-111.05},{"f":3.087,"hi":-92.25,"lo":-108.75},{"f":3.098,"hi":-95.5,"lo":-107.1},{"f":3.112,"hi":-94.7,"lo":-108.85},{"f":3.126,"hi":-93.4,"lo":-107.75},{"f":3.136,"hi":-93.6,"lo":-108.95},{"f":3.151,"hi":-94.2,"lo":-108.4},{"f":3.165,"hi":-95.65,"lo":-108.0},{"f":3.175,"hi":-93.8,"lo":-107.9},{"f":3.189,"hi":-94.25,"lo":-110.2},{"f":3.199,"hi":-93.2,"lo":-107.1},{"f":3.214,"hi":-95.25,"lo":-107.2},{"f":3.225,"hi":-94.7,"lo":-110.95},{"f":3.238,"hi":-92.55,"lo":-109.8},{"f":3.252,"hi":-94.5,"lo":-108.3},{"f":3.264,"hi":-95.1,"lo":-108.3},{"f":3.276,"hi":-93.75,"lo":-108.7},{"f":3.292,"hi":-94.85,"lo":-107.55},{"f":3.297,"hi":-94.9,"lo":-109.9},{"f":3.301,"hi":-94.7,"lo":-105.0},{"f":3.316,"hi":-92.45,"lo":-111.6},{"f":3.32,"hi":-95.5,"lo":-111.4},{"f":3.332,"hi":-95.45,"lo":-107.2},{"f":3.346,"hi":-95.3,"lo":-110.3},{"f":3.355,"hi":-93.1,"lo":-105.6},{"f":3.365,"hi":-93.65,"lo":-109.05},{"f":3.381,"hi":-95.85,"lo":-111.1},{"f":3.403,"hi":-94.3,"lo":-109.05},{"f":3.417,"hi":-95.4,"lo":-108.0},{"f":3.428,"hi":-93.6,"lo":-109.25},{"f":3.444,"hi":-95.3,"lo":-108.5},{"f":3.458,"hi":-95.0,"lo":-108.0},{"f":3.468,"hi":-93.7,"lo":-107.45},{"f":3.481,"hi":-94.0,"lo":-109.45},{"f":3.493,"hi":-95.1,"lo":-108.5},{"f":3.506,"hi":-94.2,"lo":-108.3},{"f":3.512,"hi":-95.85,"lo":-111.5},{"f":3.522,"hi":-95.05,"lo":-108.4},{"f":3.532,"hi":-95.3,"lo":-108.6},{"f":3.539,"hi":-95.85,"lo":-109.35},{"f":3.546,"hi":-93.55,"lo":-107.35},{"f":3.568,"hi":-95.9,"lo":-108.95},{"f":3.571,"hi":-95.0,"lo":-107.45},{"f":3.585,"hi":-93.8,"lo":-109.6},{"f":3.594,"hi":-93.6,"lo":-108.95},{"f":3.603,"hi":-95.85,"lo":-111.05},{"f":3.609,"hi":-94.55,"lo":-107.75},{"f":3.633,"hi":-93.35,"lo":-106.7},{"f":3.644,"hi":-94.8,"lo":-107.45},{"f":3.648,"hi":-94.8,"lo":-107.2},{"f":3.659,"hi":-93.55,"lo":-108.7},{"f":3.673,"hi":-94.8,"lo":-111.6},{"f":3.681,"hi":-95.85,"lo":-110.0},{"f":3.698,"hi":-93.3,"lo":-108.85},{"f":3.711,"hi":-94.05,"lo":-108.6},{"f":3.732,"hi":-94.35,"lo":-108.6},{"f":3.739,"hi":-94.35,"lo":-107.45},{"f":3.751,"hi":-93.8,"lo":-107.65},{"f":3.756,"hi":-95.9,"lo":-111.05},{"f":3.767,"hi":-95.85,"lo":-107.9},{"f":3.776,"hi":-93.6,"lo":-107.85},{"f":3.787,"hi":-95.65,"lo":-107.2},{"f":3.797,"hi":-95.55,"lo":-109.9},{"f":3.815,"hi":-93.4,"lo":-107.85},{"f":3.824,"hi":-93.8,"lo":-109.45},{"f":3.839,"hi":-94.95,"lo":-107.75},{"f":3.86,"hi":-95.2,"lo":-108.7},{"f":3.864,"hi":-93.1,"lo":-107.2},{"f":3.877,"hi":-95.2,"lo":-106.7},{"f":3.889,"hi":-93.2,"lo":-107.85},{"f":3.898,"hi":-94.7,"lo":-107.1},{"f":3.916,"hi":-95.0,"lo":-108.3},{"f":3.927,"hi":-92.65,"lo":-108.3},{"f":3.935,"hi":-95.85,"lo":-110.2},{"f":3.942,"hi":-93.6,"lo":-108.7},{"f":3.952,"hi":-94.8,"lo":-108.7},{"f":3.958,"hi":-95.4,"lo":-111.2},{"f":3.967,"hi":-94.95,"lo":-110.1},{"f":3.977,"hi":-94.9,"lo":-107.35},{"f":3.99,"hi":-94.85,"lo":-106.25},{"f":4.005,"hi":-92.5,"lo":-109.6},{"f":4.019,"hi":-95.2,"lo":-109.6},{"f":4.044,"hi":-92.95,"lo":-106.7},{"f":4.055,"hi":-94.05,"lo":-107.65},{"f":4.068,"hi":-94.5,"lo":-107.75},{"f":4.071,"hi":-94.8,"lo":-108.85},{"f":4.092,"hi":-93.9,"lo":-107.45},{"f":4.106,"hi":-95.2,"lo":-105.95},{"f":4.118,"hi":-93.75,"lo":-107.25},{"f":4.137,"hi":-95.4,"lo":-113.2},{"f":4.156,"hi":-92.8,"lo":-109.25},{"f":4.17,"hi":-94.45,"lo":-109.05},{"f":4.181,"hi":-94.55,"lo":-108.1},{"f":4.195,"hi":-95.0,"lo":-108.0},{"f":4.211,"hi":-95.3,"lo":-109.9},{"f":4.221,"hi":-95.1,"lo":-109.35},{"f":4.235,"hi":-92.4,"lo":-109.45},{"f":4.251,"hi":-95.15,"lo":-106.9},{"f":4.273,"hi":-92.9,"lo":-109.9},{"f":4.285,"hi":-93.8,"lo":-108.95},{"f":4.297,"hi":-94.55,"lo":-107.55},{"f":4.308,"hi":-95.55,"lo":-107.1},{"f":4.323,"hi":-94.0,"lo":-107.55},{"f":4.328,"hi":-95.55,"lo":-112.35},{"f":4.338,"hi":-94.25,"lo":-106.4},{"f":4.348,"hi":-93.75,"lo":-106.7},{"f":4.361,"hi":-95.3,"lo":-108.1},{"f":4.377,"hi":-95.1,"lo":-109.9},{"f":4.386,"hi":-93.55,"lo":-106.6},{"f":4.4,"hi":-94.7,"lo":-109.45},{"f":4.404,"hi":-95.95,"lo":-111.3},{"f":4.411,"hi":-94.45,"lo":-107.0},{"f":4.42,"hi":-95.5,"lo":-110.0},{"f":4.437,"hi":-95.55,"lo":-107.9},{"f":4.449,"hi":-94.6,"lo":-108.7},{"f":4.464,"hi":-93.1,"lo":-108.6},{"f":4.479,"hi":-95.75,"lo":-107.2},{"f":4.496,"hi":-95.55,"lo":-111.3},{"f":4.504,"hi":-93.85,"lo":-106.9},{"f":4.512,"hi":-94.2,"lo":-107.2},{"f":4.518,"hi":-95.85,"lo":-108.75},{"f":4.528,"hi":-93.95,"lo":-109.9},{"f":4.537,"hi":-95.3,"lo":-107.9},{"f":4.552,"hi":-93.2,"lo":-108.7},{"f":4.558,"hi":-94.05,"lo":-111.4},{"f":4.567,"hi":-95.0,"lo":-108.3},{"f":4.576,"hi":-93.6,"lo":-108.4},{"f":4.591,"hi":-95.1,"lo":-108.4},{"f":4.606,"hi":-95.85,"lo":-111.05},{"f":4.616,"hi":-93.3,"lo":-107.0},{"f":4.63,"hi":-94.2,"lo":-108.5},{"f":4.641,"hi":-94.85,"lo":-106.25},{"f":4.65,"hi":-96.4,"lo":-113.95},{"f":4.659,"hi":-95.85,"lo":-108.7},{"f":4.669,"hi":-94.55,"lo":-107.55},{"f":4.68,"hi":-95.5,"lo":-106.7},{"f":4.693,"hi":-93.0,"lo":-108.3},{"f":4.705,"hi":-95.55,"lo":-111.4},{"f":4.717,"hi":-95.4,"lo":-108.3},{"f":4.733,"hi":-93.45,"lo":-108.1},{"f":4.743,"hi":-94.15,"lo":-110.4},{"f":4.757,"hi":-94.45,"lo":-109.45},{"f":4.772,"hi":-96.05,"lo":-109.55},{"f":4.781,"hi":-93.0,"lo":-106.5},{"f":4.795,"hi":-94.85,"lo":-111.6},{"f":4.805,"hi":-92.9,"lo":-108.1},{"f":4.818,"hi":-95.25,"lo":-115.1},{"f":4.826,"hi":-96.5,"lo":-110.5},{"f":4.836,"hi":-95.7,"lo":-107.75},{"f":4.846,"hi":-92.45,"lo":-109.9},{"f":4.859,"hi":-95.05,"lo":-109.7},{"f":4.87,"hi":-94.8,"lo":-107.35},{"f":4.883,"hi":-94.9,"lo":-107.55},{"f":4.898,"hi":-95.85,"lo":-111.05},{"f":4.909,"hi":-94.7,"lo":-108.85},{"f":4.919,"hi":-96.6,"lo":-108.95},{"f":4.924,"hi":-92.6,"lo":-106.9},{"f":4.937,"hi":-96.2,"lo":-107.75},{"f":4.949,"hi":-96.2,"lo":-108.1},{"f":4.963,"hi":-92.75,"lo":-109.25},{"f":4.972,"hi":-95.15,"lo":-108.95},{"f":4.979,"hi":-96.2,"lo":-108.95},{"f":4.988,"hi":-94.6,"lo":-111.5},{"f":4.994,"hi":-96.05,"lo":-106.8},{"f":5.0,"hi":-88.4,"lo":-108.0}]
},
"vconcat":[
{"width":3476,"height":876,"resolve":{"axis":{"x":"independent","y":"independent"}},"layer":[
{"data":{"name":"a"},"mark":{"type":"area","interpolate":"step-after","color":"#0071bc","clip":true},"encoding":{
"x":{"field":"t","type":"quantitative","scale":{"domain":[0,0.1],"nice":false,"zero":false},"axis":{"orient":"bottom","title":"Time (s)","values":[0,0.02,0.04,0.06,0.08,0.1],"format":".2~f","tickSize":-36,"labelPadding":88,"titlePadding":48}},
"y":{"field":"hi","type":"quantitative","scale":{"domain":[-10,10],"nice":false,"zero":false},"axis":{"orient":"left","title":"Current (A)","values":[-10,0,10],"labelExpr":"datum.value==-10?'− 10':datum.label","tickSize":-20,"labelPadding":57,"titlePadding":68}},
"y2":{"field":"lo"}}},
{"data":{"name":"a"},"mark":{"type":"rule","opacity":0},"transform":[{"filter":"false"}],"encoding":{
"x":{"field":"t","type":"quantitative","axis":{"orient":"top","title":null,"labels":false,"values":[0,0.02,0.04,0.06,0.08,0.1],"tickSize":-36}},
"y":{"field":"hi","type":"quantitative","axis":{"orient":"right","title":null,"labels":false,"values":[-10,0,10],"tickSize":-20}}}},
{"data":{"values":[{"t":-0.00993,"v":10.2,"label":"(a)"}]},"mark":{"type":"text","font":"Liberation Serif","fontWeight":"bold","fontSize":80,"color":"#000000","align":"center","baseline":"middle"},"encoding":{"x":{"field":"t","type":"quantitative","axis":null},"y":{"field":"v","type":"quantitative","axis":null},"text":{"field":"label"}}}
]},
{"width":3476,"height":871,"resolve":{"axis":{"x":"independent","y":"independent"}},"layer":[
{"data":{"name":"body"},"mark":{"type":"area","color":"#0071bc","clip":true},"encoding":{
"x":{"field":"f","type":"quantitative","scale":{"domain":[0,5],"nice":false,"zero":false},"axis":{"orient":"bottom","title":"Frequency (Hz)","values":[0,1,2,3,4,5],"grid":true,"gridColor":"#dfdfdf","gridWidth":5,"tickSize":-36,"labelPadding":92,"titlePadding":45}},
"y":{"field":"hi","type":"quantitative","scale":{"domain":[-117.46,-88.33],"nice":false,"zero":false},"axis":{"orient":"left","title":"Current (dB)","values":[-112.04,-106.02,-100,-93.98],"labels":false,"grid":true,"gridColor":"#c8c8c8","gridWidth":3.5,"gridDash":[6,12],"tickSize":-20,"titlePadding":301}},
"y2":{"field":"lo"}}},
{"data":{"name":"spk"},"mark":{"type":"rule","color":"#0071bc","strokeWidth":4.5,"clip":true},"encoding":{
"x":{"field":"f","type":"quantitative","axis":{"orient":"top","title":null,"labels":false,"values":[0,1,2,3,4,5],"tickSize":-36}},
"y":{"field":"hi","type":"quantitative","axis":{"orient":"right","title":null,"labels":false,"values":[-112.04,-106.02,-100,-93.98],"tickSize":-20}},
"y2":{"field":"lo"}}},
{"data":{"values":[{"f":-0.496,"v":-84.8,"label":"(b)"}]},"mark":{"type":"text","font":"Liberation Serif","fontWeight":"bold","fontSize":80,"color":"#000000","align":"center","baseline":"middle"},"encoding":{"x":{"field":"f","type":"quantitative","axis":null},"y":{"field":"v","type":"quantitative","axis":null},"text":{"field":"label"}}},
{"data":{"values":[{"f":-0.2373,"v":-100.6,"label":"10"},{"f":4.919,"v":-126.82,"label":"10"}]},"mark":{"type":"text","fontWeight":"bold","fontSize":100,"color":"#262626","align":"right","baseline":"middle"},"encoding":{"x":{"field":"f","type":"quantitative","axis":null},"y":{"field":"v","type":"quantitative","axis":null},"text":{"field":"label"}}},
{"data":{"values":[{"f":-0.0676,"v":-99.2,"label":"− 5"},{"f":4.991,"v":-125.38,"label":"6"}]},"mark":{"type":"text","fontWeight":"bold","fontSize":74,"color":"#262626","align":"right","baseline":"middle"},"encoding":{"x":{"field":"f","type":"quantitative","axis":null},"y":{"field":"v","type":"quantitative","axis":null},"text":{"field":"label"}}},
{"data":{"values":[{"f":4.691,"v":-127.29,"label":"×"}]},"mark":{"type":"text","fontSize":105,"color":"#262626","align":"center","baseline":"middle"},"encoding":{"x":{"field":"f","type":"quantitative","axis":null},"y":{"field":"v","type":"quantitative","axis":null},"text":{"field":"label"}}}
]}
]}
